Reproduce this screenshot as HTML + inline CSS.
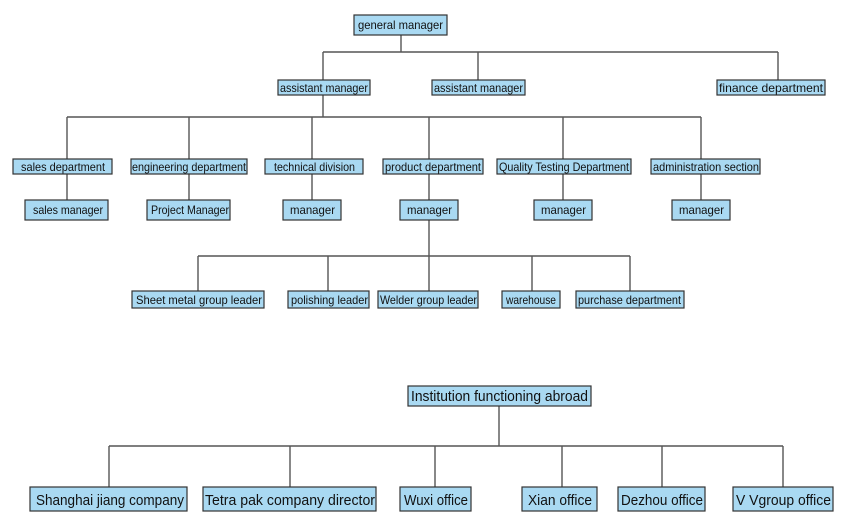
<!DOCTYPE html>
<html><head><meta charset="utf-8"><style>
html,body{margin:0;padding:0;background:#fff}
svg{display:block}
text{font-family:"Liberation Sans",sans-serif;fill:#111}
rect{fill:#a9d9f2;stroke:#333;stroke-width:1.2}
line,path{stroke:#555;stroke-width:1.4;fill:none}
</style></head><body>
<svg width="859" height="532" viewBox="0 0 859 532" xmlns="http://www.w3.org/2000/svg">
<path d="M401 35V52M323 52H778M323 52V80M478 52V80M778 52V80"/>
<path d="M323 95V117M67 117H701M67 117V159M189 117V159M312 117V159M429 117V159M563 117V159M701 117V159"/>
<path d="M67 174V200M189 174V200M312 174V200M429 174V200M563 174V200M701 174V200"/>
<path d="M429 220V256M198 256H630M198 256V291M328 256V291M429 256V291M532 256V291M630 256V291"/>
<path d="M499 406V446M109 446H783M109 446V487M290 446V487M435 446V487M562 446V487M662 446V487M783 446V487"/>
<g font-size="12">
<rect x="354" y="15" width="93" height="20"/><text x="358" y="29" textLength="85" lengthAdjust="spacingAndGlyphs">general manager</text>
<rect x="278" y="80" width="92" height="15"/><text x="280" y="92" textLength="88" lengthAdjust="spacingAndGlyphs">assistant manager</text>
<rect x="432" y="80" width="93" height="15"/><text x="434" y="92" textLength="89" lengthAdjust="spacingAndGlyphs">assistant manager</text>
<rect x="717" y="80" width="108" height="15"/><text x="719" y="92" textLength="104" lengthAdjust="spacingAndGlyphs">finance department</text>
<rect x="13" y="159" width="99" height="15"/><text x="21" y="171" textLength="84" lengthAdjust="spacingAndGlyphs">sales department</text>
<rect x="131" y="159" width="116" height="15"/><text x="132" y="171" textLength="114" lengthAdjust="spacingAndGlyphs">engineering department</text>
<rect x="265" y="159" width="98" height="15"/><text x="274" y="171" textLength="81" lengthAdjust="spacingAndGlyphs">technical division</text>
<rect x="383" y="159" width="100" height="15"/><text x="385" y="171" textLength="96" lengthAdjust="spacingAndGlyphs">product department</text>
<rect x="497" y="159" width="134" height="15"/><text x="499" y="171" textLength="130" lengthAdjust="spacingAndGlyphs">Quality Testing Department</text>
<rect x="651" y="159" width="109" height="15"/><text x="653" y="171" textLength="106" lengthAdjust="spacingAndGlyphs">administration section</text>
<rect x="25" y="200" width="83" height="20"/><text x="33" y="214" textLength="70" lengthAdjust="spacingAndGlyphs">sales manager</text>
<rect x="147" y="200" width="83" height="20"/><text x="151" y="214" textLength="78" lengthAdjust="spacingAndGlyphs">Project Manager</text>
<rect x="283" y="200" width="58" height="20"/><text x="290" y="214" textLength="45" lengthAdjust="spacingAndGlyphs">manager</text>
<rect x="400" y="200" width="58" height="20"/><text x="407" y="214" textLength="45" lengthAdjust="spacingAndGlyphs">manager</text>
<rect x="534" y="200" width="58" height="20"/><text x="541" y="214" textLength="45" lengthAdjust="spacingAndGlyphs">manager</text>
<rect x="672" y="200" width="58" height="20"/><text x="679" y="214" textLength="45" lengthAdjust="spacingAndGlyphs">manager</text>
<rect x="132" y="291" width="132" height="17"/><text x="136" y="304" textLength="126" lengthAdjust="spacingAndGlyphs">Sheet metal group leader</text>
<rect x="288" y="291" width="81" height="17"/><text x="291" y="304" textLength="77" lengthAdjust="spacingAndGlyphs">polishing leader</text>
<rect x="378" y="291" width="100" height="17"/><text x="380" y="304" textLength="97" lengthAdjust="spacingAndGlyphs">Welder group leader</text>
<rect x="502" y="291" width="58" height="17"/><text x="506" y="304" textLength="50" lengthAdjust="spacingAndGlyphs">warehouse</text>
<rect x="576" y="291" width="108" height="17"/><text x="578" y="304" textLength="103" lengthAdjust="spacingAndGlyphs">purchase department</text>
</g>
<g font-size="15">
<rect x="408" y="386" width="183" height="20"/><text x="411" y="401" textLength="177" lengthAdjust="spacingAndGlyphs">Institution functioning abroad</text>
<rect x="30" y="487" width="157" height="24"/><text x="36" y="505" textLength="148" lengthAdjust="spacingAndGlyphs">Shanghai jiang company</text>
<rect x="203" y="487" width="173" height="24"/><text x="205" y="505" textLength="170" lengthAdjust="spacingAndGlyphs">Tetra pak company director</text>
<rect x="400" y="487" width="71" height="24"/><text x="404" y="505" textLength="64" lengthAdjust="spacingAndGlyphs">Wuxi office</text>
<rect x="522" y="487" width="75" height="24"/><text x="528" y="505" textLength="64" lengthAdjust="spacingAndGlyphs">Xian office</text>
<rect x="618" y="487" width="87" height="24"/><text x="621" y="505" textLength="82" lengthAdjust="spacingAndGlyphs">Dezhou office</text>
<rect x="733" y="487" width="100" height="24"/><text x="736" y="505" textLength="95" lengthAdjust="spacingAndGlyphs">V Vgroup office</text>
</g>
</svg>
</body></html>
